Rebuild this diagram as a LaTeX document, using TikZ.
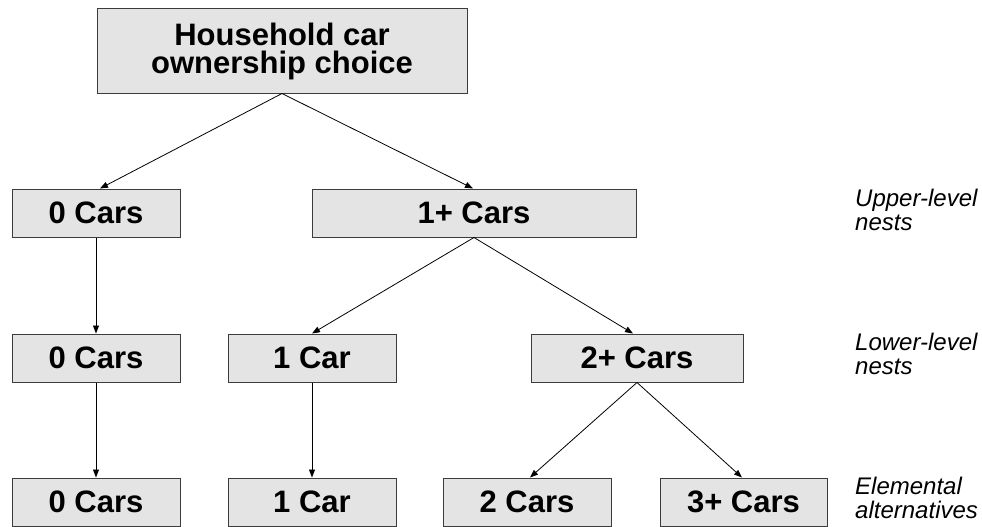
\documentclass[tikz,border=0pt]{standalone}
\usepackage{fontspec}
\setmainfont{Liberation Sans}
\usetikzlibrary{arrows.meta}
\definecolor{boxfill}{RGB}{228,228,228}
\definecolor{boxline}{RGB}{60,60,60}
\tikzset{
  choicebox/.style={draw=boxline, line width=1pt, fill=boxfill, inner sep=0pt,
    minimum height=48pt, align=center,
    font=\fontsize{31}{28}\selectfont\bfseries},
  link/.style={draw=black, line width=0.8pt, -{Triangle[length=8pt,width=6pt]}},
  levellabel/.style={anchor=west, align=left, inner sep=0pt,
    font=\fontsize{24}{24.5}\selectfont\itshape}
}
\begin{document}
\begin{tikzpicture}[x=1pt,y=-1pt]
  \useasboundingbox (0,0) rectangle (982,527);

  % root of the tree
  \node[choicebox, minimum width=370pt, minimum height=84pt] (root) at (282,51)
    {Household car\\ownership choice};

  % upper-level nests
  \node[choicebox, minimum width=168pt] (u0) at (96,213) {0 Cars};
  \node[choicebox, minimum width=324pt] (u1) at (474,213) {1+ Cars};

  % lower-level nests
  \node[choicebox, minimum width=168pt] (l0) at (96,358) {0 Cars};
  \node[choicebox, minimum width=168pt] (l1) at (312,358) {1 Car};
  \node[choicebox, minimum width=212pt] (l2) at (637,358) {2+ Cars};

  % elemental alternatives
  \node[choicebox, minimum width=168pt] (e0) at (96,502) {0 Cars};
  \node[choicebox, minimum width=168pt] (e1) at (312,502) {1 Car};
  \node[choicebox, minimum width=168pt] (e2) at (527,502) {2 Cars};
  \node[choicebox, minimum width=167pt] (e3) at (743.5,502) {3+ Cars};

  % connectors
  \draw[link] (root.south) -- ([xshift=4pt]u0.north);
  \draw[link] (root.south) -- ([xshift=-1pt]u1.north);
  \draw[link] (u0.south) -- (l0.north);
  \draw[link] (u1.south) -- (l1.north);
  \draw[link] (u1.south) -- ([xshift=-4pt]l2.north);
  \draw[link] (l0.south) -- (e0.north);
  \draw[link] (l1.south) -- (e1.north);
  \draw[link] (l2.south) -- ([xshift=3pt]e2.north);
  \draw[link] (l2.south) -- ([xshift=-1.5pt]e3.north);

  % level captions
  \node[levellabel] (cap1) at (855,210) {Upper-level\\nests};
  \node[levellabel] (cap2) at (855,354) {Lower-level\\nests};
  \node[levellabel] (cap3) at (855,498) {Elemental\\alternatives};
\end{tikzpicture}
\end{document}
